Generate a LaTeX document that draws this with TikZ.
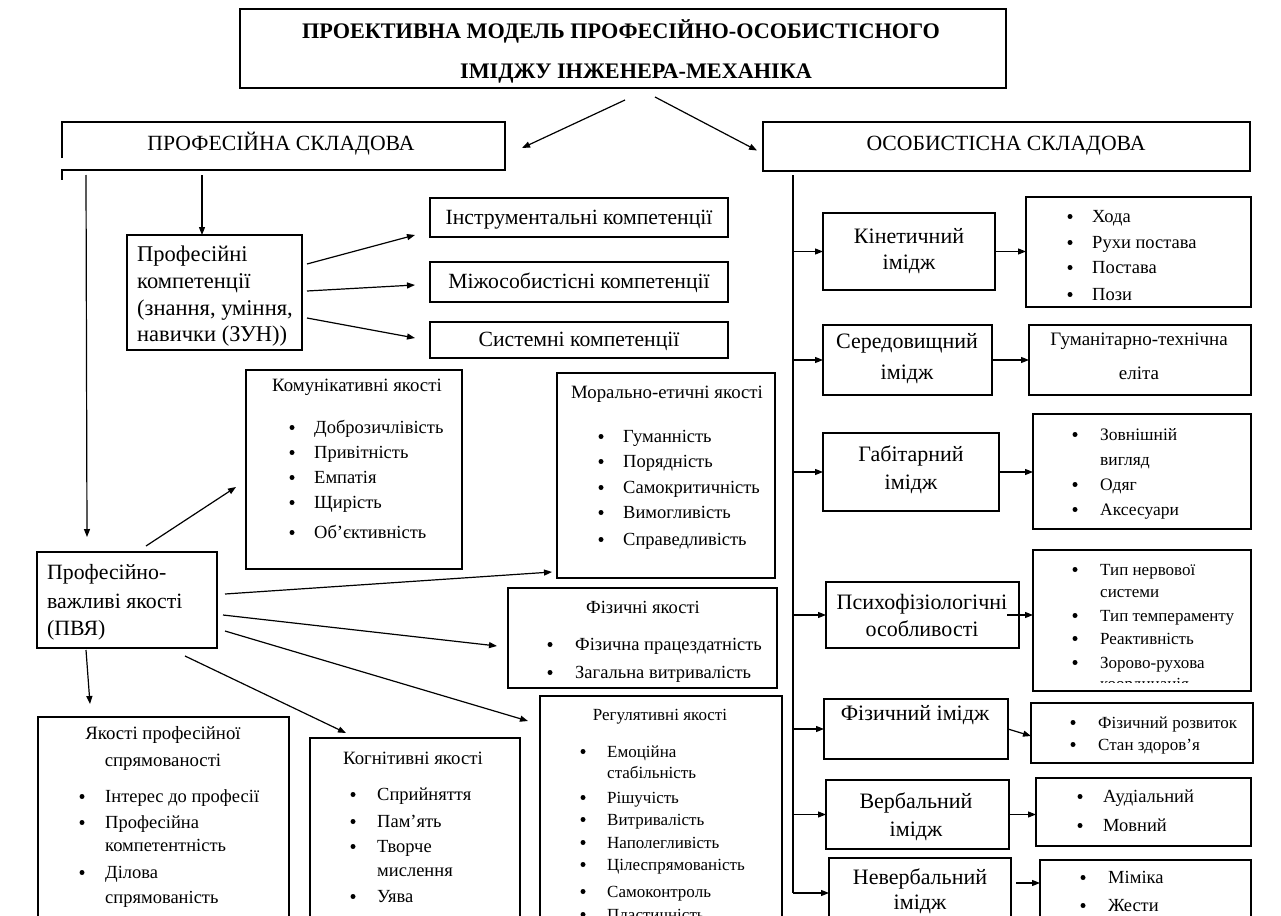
\documentclass[tikz,border=0pt]{standalone}
\usepackage{fontspec}
\setmainfont{Liberation Serif}
\usetikzlibrary{arrows.meta,fit}
\newcommand\myitem[6]{\node[bul] (#2b) at (#3,{#5-5.5}) {}; \node[#1,anchor=base west] (#2) at (#4,#5) {#6};}
\newcommand\myline[5]{\node[#1,anchor=base west] (#2) at (#3,#4) {#5};}
\newcommand\myctr[5]{\node[#1,anchor=base] (#2) at (#3,#4) {#5};}
\begin{document}
\begin{tikzpicture}[x=1pt,y=-1pt,
  bx/.style={draw, line width=1.3pt, inner sep=0pt, outer sep=0pt, rectangle},
  nb/.style={draw=none, inner sep=0pt, outer sep=0pt, rectangle},
  bul/.style={circle, fill=black, draw=none, inner sep=0pt, minimum size=5pt},
  arr/.style={-{Triangle[length=8pt,width=6pt]}, line width=1.2pt},
  ln/.style={line width=1.3pt},
  fT/.style={font=\fontsize{22.2}{26}\selectfont\bfseries, inner sep=0pt},
  f22/.style={font=\fontsize{22}{26}\selectfont, inner sep=0pt},
  f21/.style={font=\fontsize{21.8}{25}\selectfont, inner sep=0pt},
  f22b/.style={font=\fontsize{22.5}{25}\selectfont, inner sep=0pt},
  fH/.style={font=\fontsize{21.7}{25}\selectfont, inner sep=0pt},
  f19/.style={font=\fontsize{18.8}{22}\selectfont, inner sep=0pt},
  f18/.style={font=\fontsize{18.5}{22}\selectfont, inner sep=0pt},
  f17/.style={font=\fontsize{17.5}{20}\selectfont, inner sep=0pt},
  f16/.style={font=\fontsize{17}{20}\selectfont, inner sep=0pt},
  fG/.style={font=\fontsize{19}{22}\selectfont, inner sep=0pt},
  f15/.style={font=\fontsize{17}{20}\selectfont, inner sep=0pt}]
\useasboundingbox (0,0) rectangle (1281,915);
\fill[white] (0,0) rectangle (1281,915);
\clip (0,0) rectangle (1281,915);

% ---------- title ----------
\node[bx, fit={(240,9) (1006,88)}] (title) {};
\myctr{fT}{t1}{621}{39}{ПРОЕКТИВНА МОДЕЛЬ ПРОФЕСІЙНО-ОСОБИСТІСНОГО}
\myctr{fT}{t2}{636}{79}{ІМІДЖУ ІНЖЕНЕРА-МЕХАНІКА}

% ---------- section headers ----------
\node[nb, fit={(62,122) (505,170)}] (prof) {};
\draw[ln] ([yshift=-36pt]prof.north west) -- (prof.north west) -- (prof.north east) -- (prof.south east) -- (prof.south west) -- ++(0,10);
\myctr{fH}{prt}{281}{150}{ПРОФЕСІЙНА СКЛАДОВА}
\node[bx, fit={(763,122) (1250,171)}] (osob) {};
\myctr{fH}{ost}{1006}{150}{ОСОБИСТІСНА СКЛАДОВА}

\coordinate (tA) at (625,100);
\coordinate (tB) at (655,97);
\draw[arr] (tA) -- ([xshift=17pt,yshift=-2pt]prof.east);
\draw[arr] (tB) -- ([xshift=-6pt,yshift=-4pt]osob.west);

% ---------- professional competences ----------
\node[bx, fit={(127,235) (302,350)}] (pk) {};
\myline{f22b}{pk1}{137}{261}{Професійні}
\myline{f22b}{pk2}{137}{288}{компетенції}
\myline{f22b}{pk3}{137}{315}{(знання, уміння,}
\myline{f22b}{pk4}{137}{341}{навички (ЗУН))}
\coordinate (pkA) at (202,175);
\draw[arr] (pkA) -- (pkA |- pk.north);

\node[bx, fit={(430,198) (728,237)}] (ins) {};
\myctr{fH}{inst}{579}{224}{Інструментальні компетенції}
\node[bx, fit={(430,262) (728,302)}] (miz) {};
\myctr{fH}{mizt}{579}{288}{Міжособистісні компетенції}
\node[bx, fit={(430,322) (728,358)}] (sys) {};
\myctr{fH}{syst}{579}{346}{Системні компетенції}

\coordinate (pkE1) at (307,264); \coordinate (insA) at (415,235);
\coordinate (pkE2) at (307,291); \coordinate (mizA) at (415,285);
\coordinate (pkE3) at (307,318); \coordinate (sysA) at (415,338);
\draw[arr] (pkE1) -- (insA);
\draw[arr] (pkE2) -- (mizA);
\draw[arr] (pkE3) -- (sysA);

% ---------- PVYa ----------
\coordinate (lvA) at (86,175); \coordinate (lvB) at (87,537);
\draw[arr] (lvA) -- (lvB);
\node[bx, fit={(37,552) (217,648)}] (pv) {};
\myline{f21}{pv1}{47}{579}{Професійно-}
\myline{f21}{pv2}{47}{608}{важливі якості}
\myline{f21}{pv3}{47}{635}{(ПВЯ)}

% communicative
\node[bx, fit={(246,370) (462,569)}] (kom) {};
\myctr{f19}{komt}{357}{391}{Комунікативні якості}
\myitem{f18}{kom1}{292}{314}{433}{Доброзичлівість}
\myitem{f18}{kom2}{292}{314}{458}{Привітність}
\myitem{f18}{kom3}{292}{314}{483}{Емпатія}
\myitem{f18}{kom4}{292}{314}{508}{Щирість}
\myitem{f18}{kom5}{292}{314}{538}{Об’єктивність}

% moral
\node[bx, fit={(557,373) (775,578)}] (mor) {};
\myctr{f19}{mort}{667}{398}{Морально-етичні якості}
\myitem{f18}{mor1}{601}{623}{442}{Гуманність}
\myitem{f18}{mor2}{601}{623}{467}{Порядність}
\myitem{f18}{mor3}{601}{623}{493}{Самокритичність}
\myitem{f18}{mor4}{601}{623}{518}{Вимогливість}
\myitem{f18}{mor5}{601}{623}{545}{Справедливість}

% physical
\node[bx, fit={(508,588) (777,688)}] (fiy) {};
\myctr{f18}{fiyt}{643}{613}{Фізичні якості}
\myitem{f18}{fiy1}{550}{575}{650}{Фізична працездатність}
\myitem{f18}{fiy2}{550}{575}{678}{Загальна витривалість}

% regulative
\node[bx, fit={(540,696) (782,960)}] (reg) {};
\myctr{f16}{regt}{660}{720}{Регулятивні якості}
\myitem{f16}{reg1}{583}{607}{757}{Емоційна}
\myline{f16}{reg1a}{607}{778}{стабільність}
\myitem{f16}{reg2}{583}{607}{803}{Рішучість}
\myitem{f16}{reg3}{583}{607}{825}{Витривалість}
\myitem{f16}{reg4}{583}{607}{848}{Наполегливість}
\myitem{f16}{reg5}{583}{607}{870}{Цілеспрямованість}
\myitem{f16}{reg6}{583}{607}{897}{Самоконтроль}
\myitem{f16}{reg7}{583}{607}{920}{Пластичність}

% cognitive
\node[bx, fit={(310,738) (520,960)}] (kog) {};
\myctr{f19}{kogt}{413}{764}{Когнітивні якості}
\myitem{f18}{kog1}{353}{377}{800}{Сприйняття}
\myitem{f18}{kog2}{353}{377}{827}{Пам'ять}
\myitem{f18}{kog3}{353}{377}{852}{Творче}
\myline{f18}{kog3a}{377}{876}{мислення}
\myitem{f18}{kog4}{353}{377}{902}{Уява}

% orientation
\node[bx, fit={(38,717) (289,960)}] (spr) {};
\myctr{f19}{sprt1}{163}{739}{Якості професійної}
\myctr{f19}{sprt2}{163}{766}{спрямованості}
\myitem{f18}{spr1}{82}{105}{802}{Інтерес до професії}
\myitem{f18}{spr2}{82}{105}{828}{Професійна}
\myline{f18}{spr2a}{105}{851}{компетентність}
\myitem{f18}{spr3}{82}{105}{878}{Ділова}
\myline{f18}{spr3a}{105}{903}{спрямованість}

% arrows from PVYa
\coordinate (pvK) at (146,546); \coordinate (komA) at (236,487);
\coordinate (pvM) at (225,594); \coordinate (morA) at (552,572);
\coordinate (pvF) at (223,615); \coordinate (fiyA) at (497,646);
\coordinate (pvR) at (225,631); \coordinate (regA) at (528,721);
\coordinate (pvG) at (185,656); \coordinate (kogA) at (346,733);
\coordinate (pvS) at (86,650);  \coordinate (sprA) at (90,704);
\draw[arr] (pvK) -- (komA);
\draw[arr] (pvM) -- (morA);
\draw[arr] (pvF) -- (fiyA);
\draw[arr] (pvR) -- (regA);
\draw[arr] (pvG) -- (kogA);
\draw[arr] (pvS) -- (sprA);

% ---------- personal component ----------
\coordinate (vtop) at (793,175);
\coordinate (vbot) at (793,893);
\draw[ln] (vtop) -- (vbot);

\node[bx, fit={(823,213) (995,290)}] (kin) {};
\myctr{f22}{kint1}{909}{243}{Кінетичний}
\myctr{f22}{kint2}{909}{269}{імідж}
\node[bx, fit={(1026,197) (1251,307)}] (kinb) {};
\myitem{f18}{kb1}{1070}{1092}{222}{Хода}
\myitem{f18}{kb2}{1070}{1092}{248}{Рухи постава}
\myitem{f18}{kb3}{1070}{1092}{273}{Постава}
\myitem{f18}{kb4}{1070}{1092}{300}{Пози}

\node[bx, fit={(823,325) (992,395)}] (ser) {};
\myctr{f22}{sert1}{907}{348}{Середовищний}
\myctr{f22}{sert2}{907}{379}{імідж}
\node[bx, fit={(1029,325) (1251,395)}] (gum) {};
\myctr{fG}{gumt1}{1139}{345}{Гуманітарно-технічна}
\myctr{fG}{gumt2}{1139}{379}{еліта}

\node[bx, fit={(823,433) (999,511)}] (hab) {};
\myctr{f22}{habt1}{911}{461}{Габітарний}
\myctr{f22}{habt2}{911}{489}{імідж}
\node[bx, fit={(1033,414) (1251,529)}] (habb) {};
\myitem{f17}{hb1}{1075}{1100}{440}{Зовнішній}
\myline{f17}{hb1a}{1100}{465}{вигляд}
\myitem{f17}{hb2}{1075}{1100}{490}{Одяг}
\myitem{f17}{hb3}{1075}{1100}{515}{Аксесуари}

\node[bx, fit={(826,582) (1019,648)}] (psy) {};
\myctr{f22}{psyt1}{922}{609}{Психофізіологічні}
\myctr{f22}{psyt2}{922}{636}{особливості}
\node[bx, fit={(1033,550) (1251,691)}] (psyb) {};
\begin{scope}
\clip (1033,550) rectangle (1251,682);
\myitem{f15}{pb1}{1075}{1100}{575}{Тип нервової}
\myline{f15}{pb1a}{1100}{597}{системи}
\myitem{f15}{pb2}{1075}{1100}{621}{Тип темпераменту}
\myitem{f15}{pb3}{1075}{1100}{644}{Реактивність}
\myitem{f15}{pb4}{1075}{1100}{668}{Зорово-рухова}
\myline{f15}{pb4a}{1100}{689}{координація}
\end{scope}

\node[bx, fit={(824,699) (1008,759)}] (fiz) {};
\myctr{f22}{fizt}{915}{720}{Фізичний імідж}
\node[bx, fit={(1031,703) (1253,763)}] (fizb) {};
\myitem{f15}{fb1}{1073}{1098}{728}{Фізичний розвиток}
\myitem{f15}{fb2}{1073}{1098}{750}{Стан здоров’я}

\node[bx, fit={(826,780) (1009,849)}] (ver) {};
\myctr{f22}{vert1}{916}{808}{Вербальний}
\myctr{f22}{vert2}{916}{836}{імідж}
\node[bx, fit={(1036,778) (1251,846)}] (verb) {};
\myitem{f18}{vb1}{1080}{1103}{802}{Аудіальний}
\myitem{f18}{vb2}{1080}{1103}{831}{Мовний}

\node[bx, fit={(829,858) (1011,930)}] (nev) {};
\myctr{f22}{nevt1}{920}{884}{Невербальний}
\myctr{f22}{nevt2}{920}{909}{імідж}
\node[bx, fit={(1040,860) (1251,940)}] (nevb) {};
\myitem{f18}{nb1}{1083}{1108}{883}{Міміка}
\myitem{f18}{nb2}{1083}{1108}{911}{Жести}

% branch arrows
\draw[arr] (vtop |- kin.west) -- (kin.west);
\draw[arr] (vtop |- ser.west) -- (ser.west);
\draw[arr] (vtop |- hab.west) -- (hab.west);
\draw[arr] (vtop |- psy.west) -- (psy.west);
\draw[arr] (vtop |- fiz.west) -- (fiz.west);
\draw[arr] (vtop |- ver.west) -- (ver.west);
\draw[arr] (vbot) -- (vbot -| nev.west);

\draw[arr] (kin.east) -- (kin.east -| kinb.west);
\draw[arr] (ser.east) -- (ser.east -| gum.west);
\draw[arr] (hab.east) -- (hab.east -| habb.west);
\draw[arr] ([xshift=-12pt]psy.east) -- (psy.east -| psyb.west);
\draw[arr] (fiz.east) -- ([yshift=-3pt]fizb.west);
\draw[arr] (ver.east) -- (ver.east -| verb.west);
\coordinate (nvA) at (1016,883);
\draw[arr] (nvA) -- (nvA -| nevb.west);
\end{tikzpicture}
\end{document}
